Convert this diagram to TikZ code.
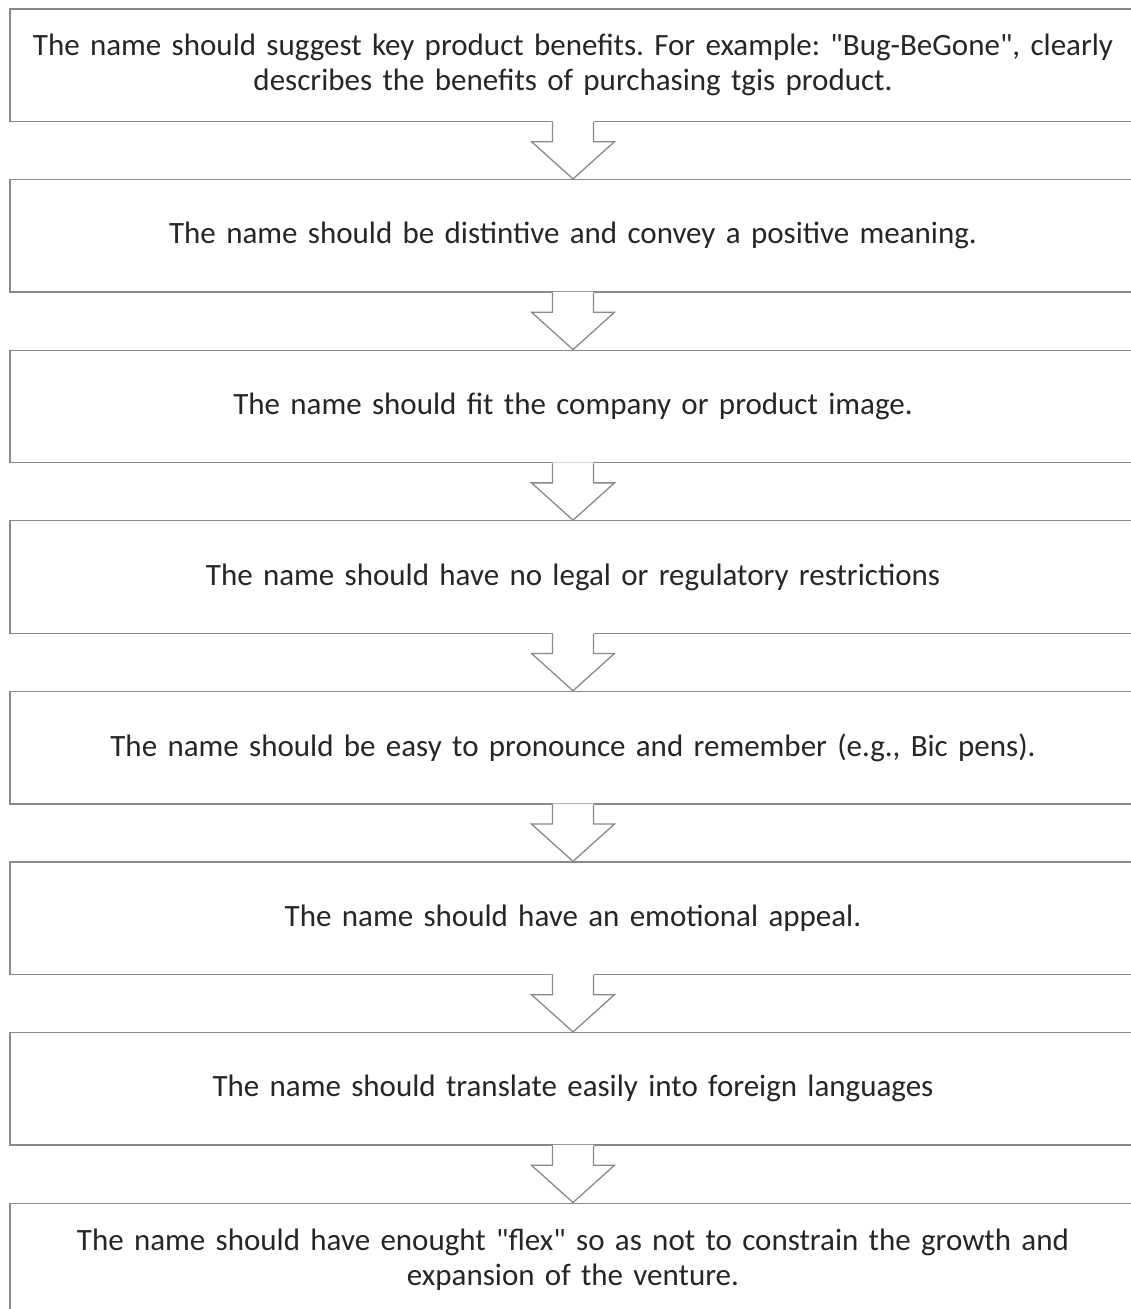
\documentclass[tikz,border=0pt]{standalone}
\usepackage{fontspec}
\newfontfamily\calibfont{Carlito}
\usetikzlibrary{calc}
\definecolor{boxgray}{RGB}{137,137,137}
\definecolor{textgray}{RGB}{38,38,38}
\tikzset{
    namebox/.style={draw=boxgray, line width=1.3pt, fill=white,
        minimum width=1126pt, minimum height=112.5pt,
        text width=1110pt, align=center, inner sep=0pt,
        text=textgray, font=\calibfont\fontsize{31}{35}\selectfont\frenchspacing},
    downarrow/.style={draw=boxgray, line width=1.3pt, line join=miter}
}

\begin{document}
\begin{tikzpicture}[x=1pt,y=-1pt]
    \useasboundingbox[fill=white] (0,0) rectangle (1130,1309);
    % the eight rules, top to bottom
    \node[namebox] (b1) at (573,65.25) {The name should suggest key product benefits. For example: "Bug-BeGone", clearly\\ describes the benefits of purchasing tgis product.};
    \node[namebox] (b2) at (573,235.85) {The name should be distintive and convey a positive meaning.};
    \node[namebox] (b3) at (573,406.45) {The name should fit the company or product image.};
    \node[namebox] (b4) at (573,577.05) {The name should have no legal or regulatory restrictions};
    \node[namebox] (b5) at (573,747.65) {The name should be easy to pronounce and remember (e.g., Bic pens).};
    \node[namebox] (b6) at (573,918.25) {The name should have an emotional appeal.};
    \node[namebox] (b7) at (573,1088.85) {The name should translate easily into foreign languages};
    \node[namebox] (b8) at (573,1259.45) {The name should have enought "flex" so as not to constrain the growth and\\ expansion of the venture.};
    % block arrows between the boxes
    \foreach \a/\b in {b1/b2,b2/b3,b3/b4,b4/b5,b5/b6,b6/b7,b7/b8} {
        \fill[white] ($(\a.south)+(-20.5,-1)$) -- ($(\a.south)+(-20.5,19.5)$)
            -- ($(\a.south)+(-41.5,19.5)$) -- (\b.north)
            -- ($(\a.south)+(41.5,19.5)$) -- ($(\a.south)+(20.5,19.5)$)
            -- ($(\a.south)+(20.5,-1)$) -- cycle;
        \draw[downarrow] ($(\a.south)+(-20.5,0)$) -- ($(\a.south)+(-20.5,19.5)$)
            -- ($(\a.south)+(-41.5,19.5)$) -- (\b.north)
            -- ($(\a.south)+(41.5,19.5)$) -- ($(\a.south)+(20.5,19.5)$)
            -- ($(\a.south)+(20.5,0)$);
    }
\end{tikzpicture}
\end{document}
